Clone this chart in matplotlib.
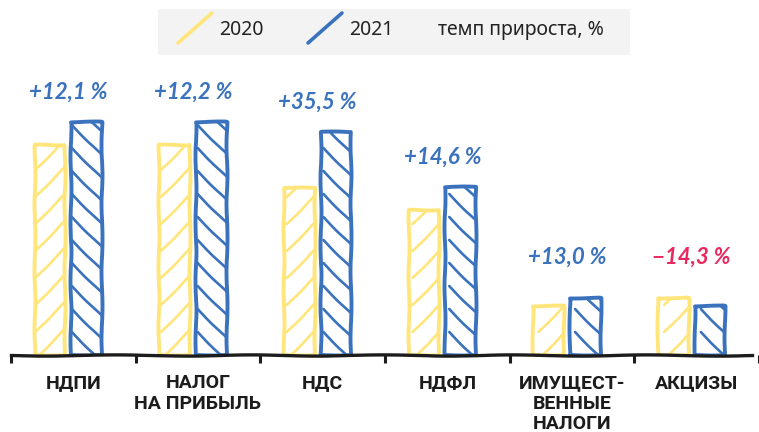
import matplotlib
matplotlib.use("Agg")
import matplotlib.pyplot as plt
from matplotlib.lines import Line2D
from matplotlib.patches import FancyBboxPatch
from matplotlib.transforms import IdentityTransform
import numpy as np

# Tax revenues by type, 2020 vs 2021 (relative units) and growth rate, %
categories = ["НДПИ", "НАЛОГ\nНА ПРИБЫЛЬ", "НДС", "НДФЛ", "ИМУЩЕСТ-\nВЕННЫЕ\nНАЛОГИ", "АКЦИЗЫ"]
values_2020 = [5.25, 5.25, 4.18, 3.63, 1.23, 1.43]
values_2021 = [5.83, 5.83, 5.58, 4.20, 1.43, 1.23]
growth_pct = [12.1, 12.2, 35.5, 14.6, 13.0, -14.3]
series_labels = ["2020", "2021"]
legend_note = "темп прироста, %"

YELLOW = "#FFE57A"
BLUE = "#3B72BD"
RED = "#E8295F"
INK = "#1c1c1c"

W, H, DPI = 759, 432, 100
fig = plt.figure(figsize=(W / DPI, H / DPI), dpi=DPI)
ax = fig.add_axes([0, 77 / H, 1, 355 / H])

n = len(categories)
x = np.arange(n)
center = x - 0.04
bw = 0.246
off = 0.146

ax.set_xlim(-0.588, 5.445)
ax.set_ylim(0, 8.875)

sketch = (0.5, 70, 2)
bars20 = ax.bar(center - off, values_2020, width=bw, facecolor="white",
                edgecolor=YELLOW, linewidth=2.8, joinstyle="round", zorder=3)
bars21 = ax.bar(center + off, values_2021, width=bw, facecolor="white",
                edgecolor=BLUE, linewidth=2.8, joinstyle="round", zorder=3)

fig.canvas.draw()


def hatch(bar, color, direction, step):
    """Hand-drawn diagonal hatching clipped to a bar."""
    (x0, y0), (x1, y1) = ax.transData.transform(
        [(bar.get_x(), bar.get_y()), (bar.get_x() + bar.get_width(), bar.get_height())])
    w = x1 - x0
    starts = np.arange(y0 - w - step, y1 + step, step)
    for s in starts:
        if direction > 0:
            xs, ys = [x0, x1], [s, s + w]
        else:
            xs, ys = [x0, x1], [s + w, s]
        ln = Line2D(xs, ys, transform=IdentityTransform(), color=color,
                    linewidth=1.9, solid_capstyle="round", zorder=3.5)
        ax.add_line(ln)
        ln.set_clip_path(bar)
        ln.set_sketch_params(*sketch)


for b in bars20:
    b.set_sketch_params(*sketch)
    hatch(b, YELLOW, +1, 27)
for b in bars21:
    b.set_sketch_params(*sketch)
    hatch(b, BLUE, -1, 23)

# growth labels above each pair
for c, a, b, g in zip(center, values_2020, values_2021, growth_pct):
    txt = ("+" if g >= 0 else "\u2212") + f"{abs(g):.1f}".replace(".", ",") + " %"
    ax.annotate(txt, xy=(c, max(a, b, 1.7)), xytext=(0, 14), textcoords="offset points",
                ha="center", va="bottom", fontsize=16, fontweight="bold", fontstyle="italic",
                family=["Lato", "DejaVu Sans"],
                color=BLUE if g >= 0 else RED, zorder=4)

# axis: baseline with boundary ticks, category names between them
for side in ("left", "right", "top"):
    ax.spines[side].set_visible(False)
sp = ax.spines["bottom"]
sp.set_bounds(-0.5, 5.445)
sp.set_linewidth(2.4)
sp.set_color(INK)
sp.set_sketch_params(0.6, 150, 2)
sp.set_zorder(5)

ax.set_yticks([])
ax.set_xticks(np.arange(-0.5, n, 1.0))
ax.set_xticklabels([])
ax.tick_params(axis="x", which="major", direction="out", length=5.5, width=2.2, color=INK)
ax.set_xticks(x, minor=True)
ax.set_xticklabels(categories, minor=True, fontsize=14, fontweight="bold",
                   family=["Roboto", "DejaVu Sans"], color=INK,
                   linespacing=1.15)
ax.tick_params(axis="x", which="minor", length=0, pad=14)


# legend strip at the top
def fx(px):
    return px / W


def fy(py):
    return 1 - py / H


fig.patches.append(FancyBboxPatch((fx(158), fy(55)), fx(630) - fx(158), fy(9) - fy(55),
                                  boxstyle="square,pad=0", transform=fig.transFigure,
                                  facecolor="#F3F3F3", edgecolor="none", zorder=0))
for (lx, col), lab in zip([(178, YELLOW), (308, BLUE)], series_labels):
    fig.add_artist(Line2D([fx(lx), fx(lx + 34)], [fy(43), fy(13)], transform=fig.transFigure,
                          color=col, linewidth=2.6, solid_capstyle="round"))
    fig.text(fx(lx + 41), fy(30), lab, fontsize=14, va="center", ha="left",
             family=["Noto Sans", "DejaVu Sans"], color="#222222")
fig.text(fx(438), fy(30), legend_note, fontsize=14, va="center", ha="left",
         family=["Noto Sans", "DejaVu Sans"], color="#222222")

fig.savefig("out.png", dpi=DPI)
